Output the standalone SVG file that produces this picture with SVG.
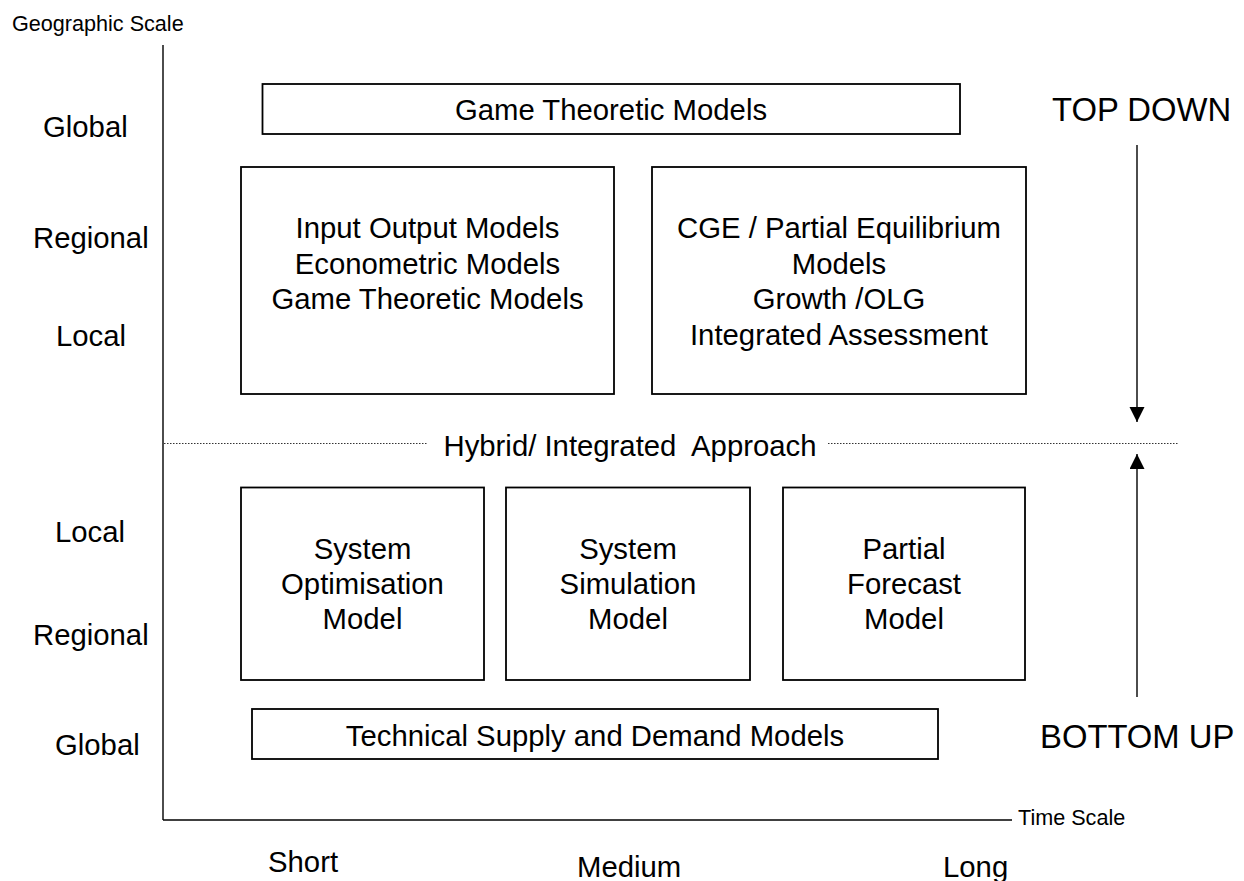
<svg xmlns="http://www.w3.org/2000/svg" width="1244" height="881" viewBox="0 0 1244 881">
<style>
  text { font-family: "Liberation Sans", Arial, sans-serif; fill: #000; }
  .big { font-size: 29.3px; }
  .small { font-size: 21.6px; }
  .huge { font-size: 32.8px; }
  .mid { text-anchor: middle; }
  .box { fill: #fff; stroke: #000; stroke-width: 1.8; }
  .axis { stroke: #000; stroke-width: 1.4; fill: none; }
  .dot { stroke: #333; stroke-width: 1; stroke-dasharray: 1.5 1.5; fill: none; }
</style>
<defs>
  <marker id="ah" markerWidth="16" markerHeight="16" refX="15" refY="7.5" orient="auto" markerUnits="userSpaceOnUse">
    <path d="M0,0 L15,7.5 L0,15 Z" fill="#000"/>
  </marker>
</defs>
<rect width="1244" height="881" fill="#fff"/>

<g id="axes">
  <line class="axis" x1="163" y1="45" x2="163" y2="820"/>
  <line class="axis" x1="163" y1="820" x2="1012" y2="820"/>
  <text class="small" x="12" y="30.5">Geographic Scale</text>
  <text class="small" x="1018" y="825">Time Scale</text>
  <text class="big" x="43" y="137">Global</text>
  <text class="big" x="33" y="248">Regional</text>
  <text class="big" x="56" y="346">Local</text>
  <text class="big" x="55" y="541.5">Local</text>
  <text class="big" x="33" y="645">Regional</text>
  <text class="big" x="55" y="755">Global</text>
  <text class="big" x="268" y="872">Short</text>
  <text class="big" x="577" y="877">Medium</text>
  <text class="big" x="943" y="877">Long</text>
</g>

<g id="game-top">
  <rect class="box" x="262.5" y="84" width="697.5" height="50"/>
  <text class="big mid" x="611" y="120">Game Theoretic Models</text>
</g>

<g id="io-box">
  <rect class="box" x="241" y="167" width="373" height="227"/>
  <text class="big mid" x="427.5" y="238">Input Output Models</text>
  <text class="big mid" x="427.5" y="273.5">Econometric Models</text>
  <text class="big mid" x="427.5" y="309">Game Theoretic Models</text>
</g>

<g id="cge-box">
  <rect class="box" x="652" y="167" width="374" height="227"/>
  <text class="big mid" x="839" y="238">CGE / Partial Equilibrium</text>
  <text class="big mid" x="839" y="273.5">Models</text>
  <text class="big mid" x="839" y="309">Growth /OLG</text>
  <text class="big mid" x="839" y="344.5">Integrated Assessment</text>
</g>

<g id="hybrid">
  <line class="dot" x1="164" y1="443.5" x2="427" y2="443.5"/>
  <line class="dot" x1="828" y1="443.5" x2="1179" y2="443.5"/>
  <text class="big mid" x="630" y="456" xml:space="preserve">Hybrid/ Integrated  Approach</text>
</g>

<g id="sys-opt">
  <rect class="box" x="241" y="487.5" width="243" height="192.5"/>
  <text class="big mid" x="362.5" y="559">System</text>
  <text class="big mid" x="362.5" y="594">Optimisation</text>
  <text class="big mid" x="362.5" y="629">Model</text>
</g>

<g id="sys-sim">
  <rect class="box" x="506" y="487.5" width="244" height="192.5"/>
  <text class="big mid" x="628" y="559">System</text>
  <text class="big mid" x="628" y="594">Simulation</text>
  <text class="big mid" x="628" y="629">Model</text>
</g>

<g id="partial">
  <rect class="box" x="783" y="487.5" width="242" height="192.5"/>
  <text class="big mid" x="904" y="559">Partial</text>
  <text class="big mid" x="904" y="594">Forecast</text>
  <text class="big mid" x="904" y="629">Model</text>
</g>

<g id="technical">
  <rect class="box" x="252" y="709" width="686" height="50"/>
  <text class="big mid" x="595" y="746">Technical Supply and Demand Models</text>
</g>

<g id="labels">
  <text class="huge" x="1052" y="121">TOP DOWN</text>
  <text class="huge" x="1040" y="748">BOTTOM UP</text>
</g>

<g id="connectors">
  <line class="axis" x1="1137" y1="145" x2="1137" y2="422" marker-end="url(#ah)"/>
  <line class="axis" x1="1137" y1="697" x2="1137" y2="454" marker-end="url(#ah)"/>
</g>
</svg>
